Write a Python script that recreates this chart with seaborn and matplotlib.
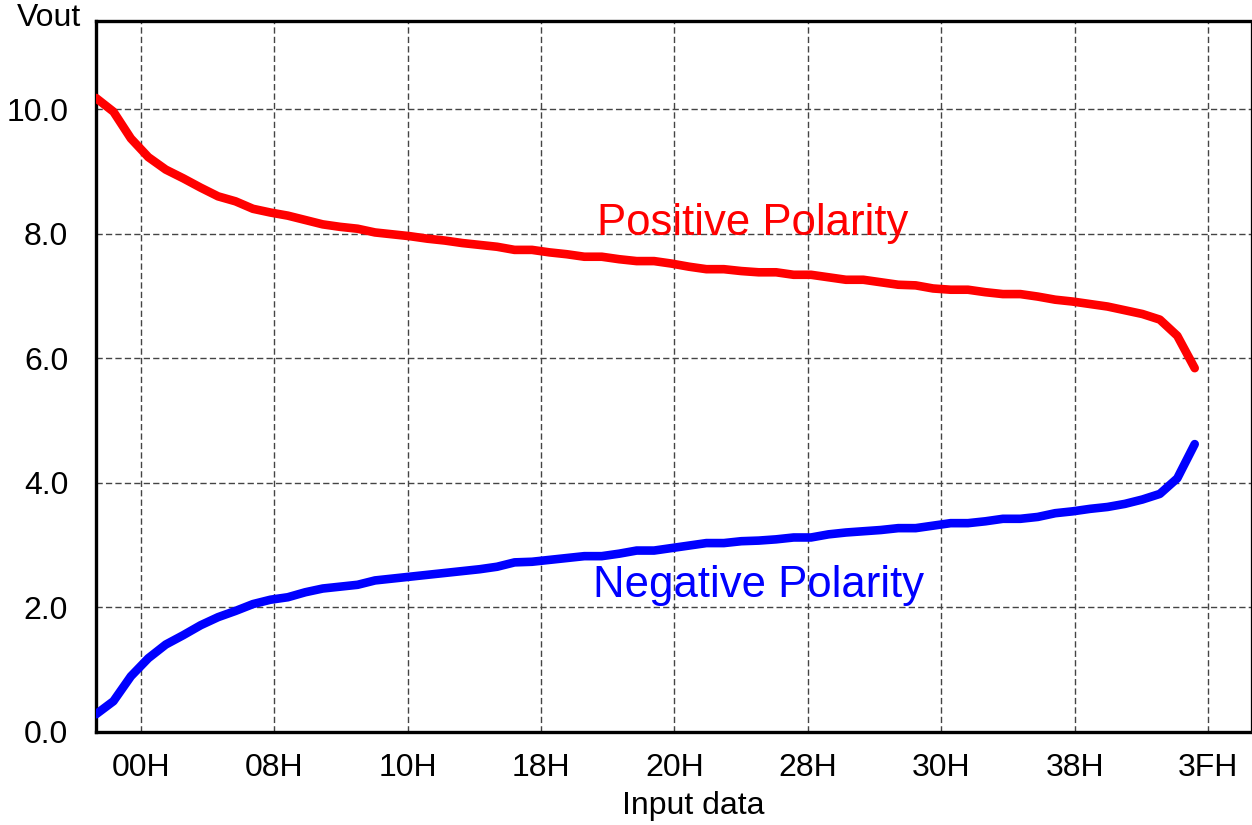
import numpy as np
import pandas as pd
import matplotlib
matplotlib.use("Agg")
import matplotlib.pyplot as plt
import seaborn as sns

# ---- data ----
codes = list(range(64))
positive = [10.18, 9.96, 9.53, 9.23, 9.03, 8.89, 8.74, 8.60, 8.52, 8.40,
            8.34, 8.29, 8.22, 8.15, 8.11, 8.08, 8.02, 7.99, 7.96, 7.92,
            7.89, 7.85, 7.82, 7.79, 7.74, 7.74, 7.70, 7.67, 7.63, 7.63,
            7.59, 7.56, 7.56, 7.52, 7.47, 7.43, 7.43, 7.40, 7.38, 7.38,
            7.34, 7.34, 7.30, 7.26, 7.26, 7.22, 7.18, 7.17, 7.12, 7.10,
            7.10, 7.06, 7.03, 7.03, 6.99, 6.94, 6.91, 6.87, 6.83, 6.77,
            6.71, 6.62, 6.36, 5.84]
negative = [0.28, 0.49, 0.89, 1.18, 1.40, 1.55, 1.71, 1.84, 1.94, 2.05,
            2.12, 2.16, 2.24, 2.30, 2.33, 2.36, 2.43, 2.46, 2.49, 2.52,
            2.55, 2.58, 2.61, 2.65, 2.72, 2.73, 2.76, 2.79, 2.82, 2.82,
            2.86, 2.91, 2.91, 2.95, 2.99, 3.03, 3.03, 3.06, 3.07, 3.09,
            3.12, 3.12, 3.17, 3.20, 3.22, 3.24, 3.27, 3.27, 3.31, 3.35,
            3.35, 3.38, 3.42, 3.42, 3.45, 3.51, 3.54, 3.58, 3.61, 3.66,
            3.73, 3.82, 4.07, 4.62]
series_names = ["Positive Polarity", "Negative Polarity"]
x_tick_labels = ["00H", "08H", "10H", "18H", "20H", "28H", "30H", "38H", "3FH"]
y_ticks = [0.0, 2.0, 4.0, 6.0, 8.0, 10.0]
y_tick_labels = ["0.0", "2.0", "4.0", "6.0", "8.0", "10.0"]
x_label = "Input data"
y_label = "Vout"

df = pd.DataFrame({
    "code": codes * 2,
    "Vout": positive + negative,
    "series": [series_names[0]] * len(codes) + [series_names[1]] * len(codes),
})

sns.set_theme(style="white")
plt.rcParams["font.family"] = ["Liberation Sans", "DejaVu Sans"]
plt.rcParams["text.color"] = "black"

W, H = 1252, 825
fig = plt.figure(figsize=(W / 100, H / 100), dpi=100)
ax = fig.add_axes([96 / W, 1 - 731.7 / H, (1251 - 96) / W, (731.7 - 20.7) / H])

sns.lineplot(data=df, x="code", y="Vout", hue="series",
             palette={series_names[0]: "#ff0000", series_names[1]: "#0000ff"},
             linewidth=6.2, legend=False, ax=ax, zorder=3,
             solid_capstyle="round", solid_joinstyle="round")

# axis geometry (layout): code units per pixel spacing
px_per_code = 17.44
x_first_tick = (140.7 - 96) / px_per_code
x_tick_step = 133.45 / px_per_code
ax.set_xlim(0, (1251 - 96) / px_per_code)
ax.set_ylim(0, (731.7 - 20.7) / 62.25)
xt = [x_first_tick + i * x_tick_step for i in range(len(x_tick_labels))]
ax.set_xticks(xt)
ax.set_xticklabels(x_tick_labels)
ax.set_yticks(y_ticks)
ax.set_yticklabels(y_tick_labels)
ax.tick_params(axis="both", length=0, labelsize=23, colors="black")
ax.tick_params(axis="x", pad=15)
ax.tick_params(axis="y", pad=20)

ax.grid(True, color="#444444", linestyle=(0, (4.5, 2.3)), linewidth=1.0, zorder=1)
ax.set_axisbelow(True)

for side in ["left", "bottom", "top"]:
    ax.spines[side].set_color("black")
    ax.spines[side].set_linewidth(2.4)
ax.spines["right"].set_color("black")
ax.spines["right"].set_linewidth(0.9)

ax.set_xlabel("")
ax.set_ylabel("")
fig.text(49 / W, 1 - 18 / H, y_label, fontsize=23, color="black",
         ha="center", va="center")
fig.text(693 / W, 1 - 806 / H, x_label, fontsize=23, color="black",
         ha="center", va="center")

fig.text(753 / W, 1 - 224 / H, series_names[0], color="#ff0000", fontsize=31.5,
         ha="center", va="center")
fig.text(759 / W, 1 - 585 / H, series_names[1], color="#0000ff", fontsize=31.5,
         ha="center", va="center")

fig.savefig("out.png", dpi=100)
